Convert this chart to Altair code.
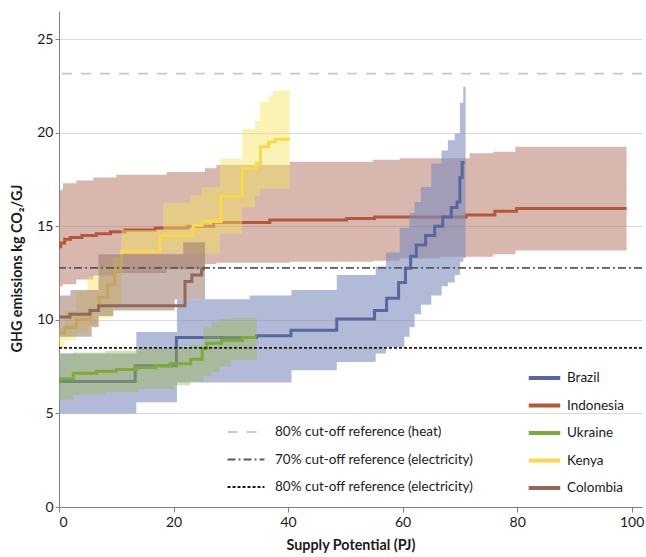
import altair as alt
import pandas as pd

countries = ["Brazil", "Indonesia", "Ukraine", "Kenya", "Colombia"]
line_colors = ["#56689f", "#b5573a", "#7dab37", "#f8d94c", "#91695d"]
band_colors = ["#7d8cbd", "#b0705e", "#9bb84e", "#f5e45a", "#9a7a6c"]
band_opacity = [0.6, 0.5, 0.42, 0.45, 0.55]

# Median supply curves (step functions: value holds from x until the next x)
bra_x = [0, 13.3, 20.5, 34.5, 40.5, 48.5, 55.1, 57.2, 59.3, 60.5, 61.4, 62.4, 64.0, 65.6, 67.0, 68.5, 69.5, 70.0, 70.4, 70.8]
bra_y = [6.7, 7.55, 9.05, 9.15, 9.45, 10.05, 10.5, 11.15, 12.0, 12.75, 13.4, 14.0, 14.5, 15.0, 15.5, 16.0, 16.3, 17.6, 18.4, 18.4]
ind_x = [0, 0.3, 1.0, 2.0, 4.0, 6.5, 9.0, 11.5, 16.8, 22.5, 27.0, 36.8, 50.2, 55.1, 71.1, 76.1, 79.9, 99.1]
ind_y = [13.9, 14.1, 14.3, 14.4, 14.5, 14.6, 14.7, 14.8, 14.9, 15.0, 15.2, 15.33, 15.42, 15.5, 15.6, 15.8, 15.95, 15.95]
ukr_x = [0, 2.5, 6.6, 10.0, 13.5, 16.8, 19.4, 23.0, 25.0, 25.8, 28.4, 32.0, 34.5]
ukr_y = [6.85, 7.15, 7.25, 7.35, 7.45, 7.55, 7.65, 7.9, 8.45, 8.75, 8.9, 9.05, 9.05]
ken_x = [0, 1.0, 3.0, 5.5, 7.0, 8.5, 9.7, 10.9, 17.6, 23.4, 25.0, 28.3, 32.0, 34.5, 35.2, 36.6, 37.8, 40.3]
ken_y = [9.3, 9.6, 10.0, 10.5, 11.2, 11.9, 12.6, 13.65, 14.5, 15.05, 15.25, 16.6, 18.1, 18.35, 19.25, 19.5, 19.65, 19.65]
col_x = [0, 1.9, 5.4, 6.9, 22.0, 23.2, 24.9, 25.5]
col_y = [10.15, 10.3, 10.5, 10.75, 12.05, 12.4, 12.7, 12.7]

# Uncertainty bands (lower / upper bounds, same step convention)
bra_bx = [0, 13.5, 20.6, 33.3, 40.6, 48.5, 55.3, 57.1, 59.5, 60.3, 61.2, 62.1, 63.2, 65.0, 66.8, 67.9, 69.1, 70.0, 70.6, 71.0]
bra_lo = [5.0, 5.6, 6.65, 6.65, 7.3, 7.75, 8.2, 8.55, 8.55, 9.1, 9.6, 10.3, 10.8, 11.3, 11.8, 12.0, 12.4, 13.1, 13.3, 13.3]
bra_hi = [8.2, 9.35, 11.1, 11.3, 11.6, 12.4, 12.85, 13.6, 14.9, 14.9, 15.7, 16.3, 17.1, 18.35, 19.05, 19.6, 19.95, 21.6, 22.45, 22.45]
ind_bx = [0, 0.7, 3.0, 6.0, 10.0, 18.8, 25.5, 27.5, 40.3, 54.8, 59.5, 66.5, 71.7, 75.8, 79.7, 99.1]
ind_lo = [11.8, 11.9, 12.15, 12.35, 12.5, 12.7, 12.98, 13.05, 13.1, 13.16, 13.28, 13.37, 13.37, 13.51, 13.7, 13.7]
ind_hi = [16.95, 17.3, 17.45, 17.6, 17.75, 17.9, 18.1, 18.27, 18.45, 18.55, 18.63, 18.63, 18.9, 18.98, 19.25, 19.25]
ukr_bx = [0, 2.5, 8.0, 14.0, 20.0, 22.9, 25.2, 26.6, 28.0, 30.0, 34.5]
ukr_lo = [5.75, 6.0, 6.15, 6.3, 6.5, 6.7, 7.0, 7.2, 7.5, 7.85, 7.85]
ukr_hi = [8.2, 8.25, 8.35, 8.45, 8.55, 8.65, 9.6, 9.9, 10.05, 10.1, 10.1]
ken_bx = [0, 1.0, 3.0, 5.0, 7.0, 9.4, 10.9, 18.2, 22.9, 24.9, 28.1, 32.0, 34.2, 35.1, 36.6, 37.4, 40.3]
ken_lo = [8.5, 8.9, 9.3, 9.7, 10.1, 10.6, 13.55, 13.55, 13.55, 13.55, 14.6, 16.0, 16.6, 17.0, 17.0, 17.0, 17.0]
ken_hi = [9.6, 10.5, 11.5, 12.3, 12.8, 13.3, 14.8, 16.25, 16.65, 17.1, 18.6, 20.2, 20.65, 21.65, 22.0, 22.25, 22.25]
col_bx = [0, 2.0, 5.7, 6.9, 9.5, 20.2, 21.7, 25.5]
col_lo = [9.1, 9.1, 9.6, 10.2, 10.5, 11.1, 11.1, 11.1]
col_hi = [11.3, 11.6, 11.6, 13.5, 13.5, 13.5, 14.15, 14.15]

# Reference thresholds
ref_names = ["80% cut-off reference (heat)", "70% cut-off reference (electricity)", "80% cut-off reference (electricity)"]
ref_values = [23.15, 12.78, 8.5]
ref_colors = ["#c8c8c8", "#5a5a5a", "#1a1a1a"]
ref_dashes = [[10, 9], [8, 3, 2, 3], [3, 2]]

curves = {
    "Brazil": (bra_x, bra_y, bra_bx, bra_lo, bra_hi),
    "Indonesia": (ind_x, ind_y, ind_bx, ind_lo, ind_hi),
    "Ukraine": (ukr_x, ukr_y, ukr_bx, ukr_lo, ukr_hi),
    "Kenya": (ken_x, ken_y, ken_bx, ken_lo, ken_hi),
    "Colombia": (col_x, col_y, col_bx, col_lo, col_hi),
}

FONT = "Lato"
X_TITLE = "Supply Potential (PJ)"
Y_TITLE = "GHG emissions kg CO₂/GJ"
x_scale = alt.Scale(domain=[0, 101.8], nice=False, zero=False)
y_scale = alt.Scale(domain=[0, 26.5], nice=False)
x_axis = alt.Axis(values=[0, 20, 40, 60, 80, 100], grid=False, title=X_TITLE)
y_axis = alt.Axis(values=[0, 5, 10, 15, 20, 25], grid=True, title=Y_TITLE, titleY=257)


def xe(field):
    return alt.X(field, type="quantitative", scale=x_scale, axis=x_axis, title=X_TITLE)


def ye(field):
    return alt.Y(field, type="quantitative", scale=y_scale, axis=y_axis, title=Y_TITLE)


country_color = alt.Color(
    "country:N",
    scale=alt.Scale(domain=countries, range=line_colors),
    legend=alt.Legend(
        title=None, orient="none", legendX=476.5, legendY=358, padding=0,
        symbolType="M-2.25,0H2.25", symbolSize=196, symbolStrokeWidth=4,
        labelOffset=13.5, rowPadding=10.5, labelFont=FONT, labelFontSize=13.5,
        labelColor="#1a1a1a", labelLimit=300,
    ),
)

layers = []
# drawing order: each band sits under its own median line
for name in ["Indonesia", "Brazil", "Ukraine", "Kenya", "Colombia"]:
    i = countries.index(name)
    lx, ly, bx, lo, hi = curves[name]
    band_df = pd.DataFrame({"x": bx, "lo": lo, "hi": hi})
    line_df = pd.DataFrame({"country": name, "x": lx, "y": ly})
    band = alt.Chart(band_df).mark_area(
        interpolate="step-after", color=band_colors[i], opacity=band_opacity[i]
    ).encode(x=xe("x"), y=ye("lo"), y2="hi")
    line = alt.Chart(line_df).mark_line(interpolate="step-after", strokeWidth=3).encode(
        x=xe("x"), y=ye("y"), color=country_color
    )
    layers += [band, line]

ref_legend = alt.Legend(
    title=None, orient="none", legendX=179, legendY=413, padding=0,
    symbolType="M-2.64,0H2.64", symbolSize=196, symbolStrokeWidth=2,
    labelOffset=21, rowPadding=12.5, labelFont=FONT, labelFontSize=13.5,
    labelColor="#1a1a1a", labelLimit=400,
)
ref_df = pd.DataFrame({"name": ref_names, "value": ref_values})
refs = alt.Chart(ref_df).mark_rule(strokeWidth=1.7).encode(
    y=ye("value"),
    stroke=alt.Stroke("name:N", scale=alt.Scale(domain=ref_names, range=ref_colors), legend=ref_legend),
    strokeDash=alt.StrokeDash("name:N", scale=alt.Scale(domain=ref_names, range=ref_dashes), legend=ref_legend),
)
layers.append(refs)

chart = (
    alt.layer(*layers)
    .properties(
        width=583, height=496, autosize="none",
        padding={"left": 59, "top": 11, "right": 4, "bottom": 50},
        background="white",
    )
    .configure_view(stroke=None)
    .configure_axis(
        labelFont=FONT, labelFontSize=14, labelColor="#1a1a1a",
        titleFont=FONT, titleFontSize=14.3, titleFontWeight="bold", titleColor="#1a1a1a",
        domainColor="#808080", tickColor="#808080", gridColor="#d9d9d9", gridWidth=1,
    )
    .configure_axisX(tickSize=5, labelPadding=3, titlePadding=9)
    .configure_axisY(tickSize=4, labelPadding=2, titlePadding=12)
)

chart.save("out.html", embed_options={"renderer": "svg", "actions": False})
